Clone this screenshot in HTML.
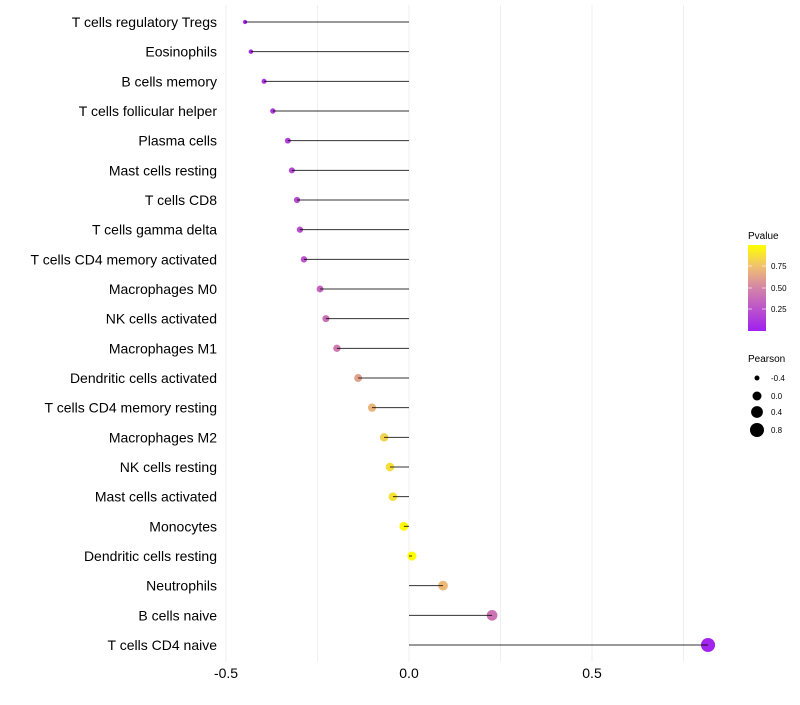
<!DOCTYPE html>
<html><head><meta charset="utf-8"><style>
body{margin:0;background:#fff;font-family:"Liberation Sans",Arial,sans-serif}
</style></head><body>
<svg id="chart" width="800" height="700" xmlns="http://www.w3.org/2000/svg">
<defs><linearGradient id="pg" x1="0" y1="1" x2="0" y2="0">
<stop offset="0" stop-color="#a020f0"/><stop offset="0.5" stop-color="#d484a8"/><stop offset="0.75" stop-color="#f0c070"/><stop offset="1" stop-color="#ffff00"/></linearGradient></defs>
<g id="grid"></g><g id="dots"></g><g id="marks"></g><g id="labels"></g>
<g>
<text x="748" y="239" font-size="10" fill="#000">Pvalue</text>
<rect x="748" y="245" width="18" height="86" fill="url(#pg)"/>
<g stroke="#fff" stroke-opacity="0.6"><line x1="748" x2="752" y1="266" y2="266"/><line x1="762" x2="766" y1="266" y2="266"/><line x1="748" x2="752" y1="288" y2="288"/><line x1="762" x2="766" y1="288" y2="288"/><line x1="748" x2="752" y1="309" y2="309"/><line x1="762" x2="766" y1="309" y2="309"/></g>
<g font-size="8" fill="#000"><text x="771" y="269">0.75</text><text x="771" y="291">0.50</text><text x="771" y="312">0.25</text></g>
</g>
<g>
<text x="748" y="362" font-size="10" fill="#000">Pearson</text>
<circle cx="757" cy="378" r="2.5"/><circle cx="757" cy="396" r="4.5"/><circle cx="757" cy="412" r="5.9"/><circle cx="757" cy="430" r="7"/>
<g font-size="8" fill="#000"><text x="771" y="381">-0.4</text><text x="771" y="399">0.0</text><text x="771" y="415">0.4</text><text x="771" y="433">0.8</text></g>
</g>
</svg>
<script>
const categories=["T cells regulatory  Tregs","Eosinophils","B cells memory","T cells follicular helper","Plasma cells","Mast cells resting","T cells CD8","T cells gamma delta","T cells CD4 memory activated","Macrophages M0","NK cells activated","Macrophages M1","Dendritic cells activated","T cells CD4 memory resting","Macrophages M2","NK cells resting","Mast cells activated","Monocytes","Dendritic cells resting","Neutrophils","B cells naive","T cells CD4 naive"];
const pearson=[-0.448,-0.432,-0.396,-0.372,-0.331,-0.320,-0.306,-0.298,-0.287,-0.243,-0.227,-0.197,-0.139,-0.101,-0.068,-0.052,-0.044,-0.014,0.008,0.093,0.227,0.817];
const pvalue=[0.04,0.06,0.1,0.12,0.16,0.2,0.22,0.23,0.26,0.35,0.4,0.45,0.62,0.7,0.82,0.87,0.88,0.98,0.99,0.72,0.42,0.02];
const xTicks=[-0.5,0,0.5];
const xTickLabels=["-0.5","0.0","0.5"];
const xGrid=[-0.5,-0.25,0,0.25,0.5,0.75];
const NS="http://www.w3.org/2000/svg";
const x=v=>409+v*366;
const y=i=>22+i*(623/21);
const rad=v=>Math.sqrt(Math.max(1,20.5+35.6*v));
function lerp(a,b,t){return a.map((c,k)=>Math.round(c+(b[k]-c)*t));}
function col(p){const s=[[0,[160,32,240]],[0.5,[212,132,168]],[0.75,[240,192,112]],[1,[255,255,0]]];
for(let k=1;k<s.length;k++){if(p<=s[k][0]){const t=(p-s[k-1][0])/(s[k][0]-s[k-1][0]);return 'rgb('+lerp(s[k-1][1],s[k][1],t).join(',')+')';}}return 'rgb(255,255,0)';}
function mk(t,a,p){const e=document.createElementNS(NS,t);for(const k in a)e.setAttribute(k,a[k]);p.appendChild(e);return e;}
const g=document.getElementById('grid'),m=document.getElementById('marks'),D=document.getElementById('dots'),L=document.getElementById('labels');
xGrid.forEach(v=>{const l=mk('line',{x1:x(v),x2:x(v),y1:5,y2:662,stroke:'#efefef','stroke-width':1},g);

});
xTicks.forEach((v,i)=>{const t=mk('text',{x:x(v),y:678,'font-size':14,'text-anchor':'middle',fill:'#000'},L);t.textContent=xTickLabels[i];

});
categories.forEach((c,i)=>{
const t=mk('text',{x:217,y:y(i)+5,'font-size':14,'text-anchor':'end',fill:'#000'},L);t.textContent=c;


const d=mk('circle',{cx:x(pearson[i]),cy:y(i),r:rad(pearson[i]),fill:col(pvalue[i])},D);


const l=mk('line',{x1:x(0),x2:x(pearson[i]),y1:y(i),y2:y(i),stroke:'#000','stroke-width':1,'stroke-opacity':0.8},m);


});
</script>
</body></html>
